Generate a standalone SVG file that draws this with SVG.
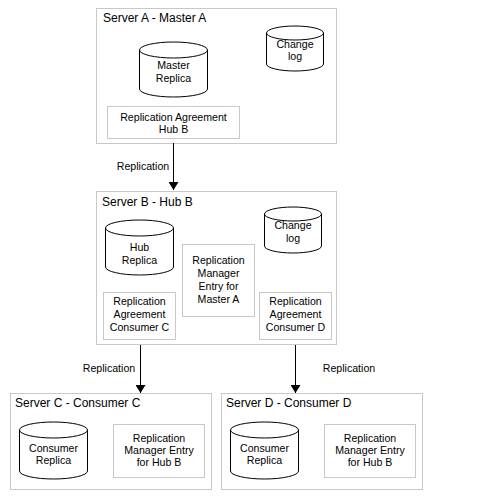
<svg xmlns="http://www.w3.org/2000/svg" width="495" height="504" viewBox="0 0 495 504">
<style>
.box{fill:#fff;stroke:#c8c8c8;stroke-width:1}
.cyl{fill:#fff;stroke:#000;stroke-width:1}
.edge{stroke:#000;stroke-width:1;fill:none}
text{font-family:"Liberation Sans",Arial,sans-serif;fill:#000}
.title{font-size:12px}
.lbl{font-size:10.6px;text-anchor:middle}
</style>
<defs>
<marker id="arr" markerWidth="8" markerHeight="10" refX="8" refY="5" orient="auto" markerUnits="userSpaceOnUse" viewBox="0 0 8 10">
<path d="M0,0 L8,5 L0,10 z" fill="#000"/>
</marker>
</defs>
<rect width="495" height="504" fill="#fff"/>

<g id="serverA">
<rect class="box" x="96.5" y="8.5" width="240" height="135"/>
<text class="title" x="103" y="22">Server A - Master A</text>
<g id="masterReplica">
<path class="cyl" d="M139.5,50 A34,8 0 0 1 207.5,50 L207.5,89 A34,8 0 0 1 139.5,89 Z M139.5,50 A34,8 0 0 0 207.5,50"/>
<text class="lbl" x="173.5" y="69">Master</text>
<text class="lbl" x="173.5" y="82">Replica</text>
</g>
<g id="changelogA">
<path class="cyl" d="M266.5,33 A28.5,7 0 0 1 323.5,33 L323.5,64 A28.5,7 0 0 1 266.5,64 Z M266.5,33 A28.5,7 0 0 0 323.5,33"/>
<text class="lbl" x="295" y="47.5">Change</text>
<text class="lbl" x="295" y="60">log</text>
</g>
<g id="raHubB">
<rect class="box" x="107.5" y="106.5" width="132" height="32"/>
<text class="lbl" x="173.5" y="121">Replication Agreement</text>
<text class="lbl" x="173.5" y="133">Hub B</text>
</g>
</g>

<g id="serverB">
<rect class="box" x="96.5" y="191.5" width="240" height="153"/>
<text class="title" x="102" y="206">Server B - Hub B</text>
<g id="hubReplica">
<path class="cyl" d="M105.5,228 A34,8 0 0 1 173.5,228 L173.5,267 A34,8 0 0 1 105.5,267 Z M105.5,228 A34,8 0 0 0 173.5,228"/>
<text class="lbl" x="139.5" y="251">Hub</text>
<text class="lbl" x="139.5" y="264">Replica</text>
</g>
<g id="changelogB">
<path class="cyl" d="M264.5,214 A28.5,7 0 0 1 321.5,214 L321.5,246 A28.5,7 0 0 1 264.5,246 Z M264.5,214 A28.5,7 0 0 0 321.5,214"/>
<text class="lbl" x="293" y="228.5">Change</text>
<text class="lbl" x="293" y="241.5">log</text>
</g>
<g id="rmeMasterA">
<rect class="box" x="182.5" y="244.5" width="72" height="72"/>
<text class="lbl" x="218.5" y="264">Replication</text>
<text class="lbl" x="218.5" y="277">Manager</text>
<text class="lbl" x="218.5" y="290">Entry for</text>
<text class="lbl" x="218.5" y="303">Master A</text>
</g>
<g id="raConsumerC">
<rect class="box" x="103.5" y="292.5" width="72" height="47"/>
<text class="lbl" x="139.5" y="305">Replication</text>
<text class="lbl" x="139.5" y="318">Agreement</text>
<text class="lbl" x="139.5" y="331">Consumer C</text>
</g>
<g id="raConsumerD">
<rect class="box" x="259.5" y="292.5" width="72" height="47"/>
<text class="lbl" x="295.5" y="305">Replication</text>
<text class="lbl" x="295.5" y="318">Agreement</text>
<text class="lbl" x="295.5" y="331">Consumer D</text>
</g>
</g>

<g id="serverC">
<rect class="box" x="10.5" y="393.5" width="201" height="96"/>
<text class="title" x="15" y="407">Server C - Consumer C</text>
<g id="consumerReplicaC">
<path class="cyl" d="M19.5,430 A34,8 0 0 1 87.5,430 L87.5,471 A34,8 0 0 1 19.5,471 Z M19.5,430 A34,8 0 0 0 87.5,430"/>
<text class="lbl" x="53.5" y="452">Consumer</text>
<text class="lbl" x="53.5" y="464">Replica</text>
</g>
<g id="rmeHubBC">
<rect class="box" x="113.5" y="424.5" width="91" height="53"/>
<text class="lbl" x="159" y="442">Replication</text>
<text class="lbl" x="159" y="454">Manager Entry</text>
<text class="lbl" x="159" y="466">for Hub B</text>
</g>
</g>

<g id="serverD">
<rect class="box" x="221.5" y="393.5" width="201" height="96"/>
<text class="title" x="226" y="407">Server D - Consumer D</text>
<g id="consumerReplicaD">
<path class="cyl" d="M230.5,430 A34,8 0 0 1 298.5,430 L298.5,471 A34,8 0 0 1 230.5,471 Z M230.5,430 A34,8 0 0 0 298.5,430"/>
<text class="lbl" x="264.5" y="452">Consumer</text>
<text class="lbl" x="264.5" y="464">Replica</text>
</g>
<g id="rmeHubBD">
<rect class="box" x="324.5" y="424.5" width="91" height="53"/>
<text class="lbl" x="370" y="442">Replication</text>
<text class="lbl" x="370" y="454">Manager Entry</text>
<text class="lbl" x="370" y="466">for Hub B</text>
</g>
</g>

<g id="connectors">
<line class="edge" x1="173.5" y1="143" x2="173.5" y2="190" marker-end="url(#arr)"/>
<text class="lbl" x="143" y="170">Replication</text>
<line class="edge" x1="140.5" y1="345" x2="140.5" y2="393" marker-end="url(#arr)"/>
<text class="lbl" x="109" y="372">Replication</text>
<line class="edge" x1="295.5" y1="345" x2="295.5" y2="393" marker-end="url(#arr)"/>
<text class="lbl" x="349" y="372">Replication</text>
</g>
</svg>
